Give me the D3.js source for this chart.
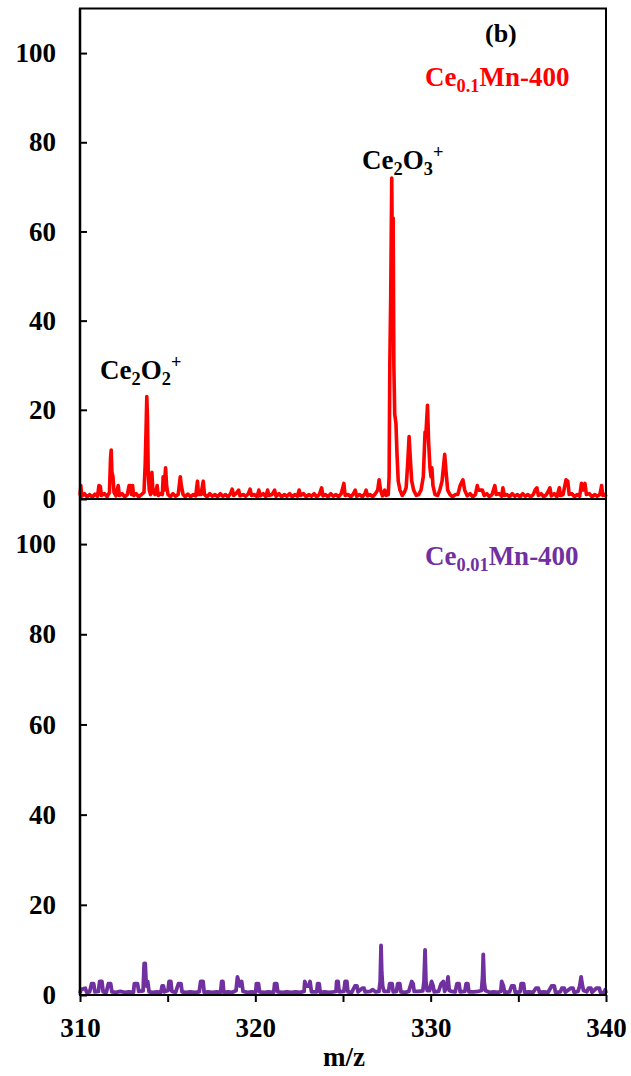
<!DOCTYPE html>
<html>
<head>
<meta charset="utf-8">
<script src="https://cdn.jsdelivr.net/npm/d3@7/dist/d3.min.js"></script>
<style>
  html, body { margin: 0; padding: 0; background: #fff; }
  svg text { font-family: "Liberation Serif", "Times New Roman", serif; font-weight: bold; }
</style>
</head>
<body>
<svg id="chart" width="631" height="1076"></svg>
<script>
// ---------- DATA ----------
const xTickValues = [310, 315, 320, 325, 330, 335, 340];
const xTickLabels = ["310", "", "320", "", "330", "", "340"];
const yTickValues = [0, 20, 40, 60, 80, 100];

// Ce0.1Mn-400 spectrum (m/z, intensity)
const seriesCe01 = [
[310.00,0.8],[310.05,3],[310.10,0.6],[310.25,1.2],[310.40,0.5],[310.55,1],[310.70,0.4],[310.85,1.1],[311.00,0.6],[311.08,3],[311.16,2.8],[311.22,0.8],[311.40,1.2],[311.55,0.5],[311.68,1.5],[311.74,9],[311.78,11],[311.82,6],[311.88,5],[311.94,1.5],[312.05,0.7],[312.18,3],[312.25,0.8],[312.40,1.2],[312.55,0.5],[312.70,1],[312.80,3],[312.88,3],[312.94,1],[313.00,3],[313.06,0.8],[313.20,1.2],[313.35,0.5],[313.50,1],[313.65,1.5],[313.72,8],[313.77,16],[313.81,23],[313.85,18],[313.89,6],[313.95,2],[314.02,1],[314.10,6],[314.16,1.5],[314.28,1],[314.40,3],[314.46,0.8],[314.60,1.2],[314.70,1],[314.74,5],[314.80,2],[314.88,7],[314.94,3],[315.02,1],[315.15,0.5],[315.30,1.2],[315.45,0.6],[315.60,1],[315.66,3],[315.72,5],[315.78,3],[315.88,1],[316.00,0.5],[316.15,1.1],[316.30,0.5],[316.45,1],[316.60,0.7],[316.70,4],[316.76,1],[316.90,1],[317.03,4],[317.10,1],[317.25,0.5],[317.40,1.2],[317.55,0.6],[317.70,1],[317.85,0.5],[318.00,1.2],[318.15,0.6],[318.30,1],[318.45,0.5],[318.60,1.3],[318.68,2.2],[318.76,0.8],[318.90,1.2],[319.05,2],[319.12,0.7],[319.30,1],[319.45,0.6],[319.60,1.2],[319.70,2.2],[319.78,0.8],[319.95,1],[320.10,0.5],[320.20,2],[320.28,0.7],[320.45,1.2],[320.60,0.5],[320.70,2],[320.78,0.8],[320.95,1],[321.10,2],[321.18,0.6],[321.35,1.2],[321.50,0.5],[321.65,1],[321.80,0.6],[321.95,1.2],[322.10,0.5],[322.25,1],[322.40,0.6],[322.50,2],[322.58,0.8],[322.75,1.2],[322.90,0.5],[323.05,1],[323.20,0.6],[323.35,1.2],[323.50,0.5],[323.65,1],[323.78,2.5],[323.86,0.7],[324.00,1],[324.15,0.5],[324.30,1.2],[324.45,0.6],[324.60,1],[324.75,0.5],[324.90,1.2],[325.05,3.5],[325.12,0.8],[325.30,1],[325.45,0.5],[325.60,1.2],[325.70,2],[325.78,0.6],[325.95,1],[326.10,0.5],[326.25,1.2],[326.32,2],[326.40,0.7],[326.55,1],[326.70,0.5],[326.85,1.2],[326.98,2],[327.06,4.3],[327.14,2],[327.25,0.7],[327.38,2],[327.46,0.8],[327.58,1],[327.63,5],[327.67,30],[327.72,45],[327.78,72],[327.81,58],[327.86,63],[327.90,30],[327.95,19],[328.02,17],[328.08,10],[328.15,4],[328.25,2],[328.38,0.8],[328.50,1.5],[328.60,2.5],[328.69,8],[328.77,14],[328.84,9],[328.92,4],[329.03,2],[329.18,0.8],[329.32,1],[329.45,2],[329.58,5],[329.68,15],[329.72,14],[329.82,21],[329.88,13],[329.96,7],[330.02,5],[330.07,7],[330.13,3],[330.25,1],[330.40,0.8],[330.52,2],[330.65,4],[330.70,6],[330.80,10],[330.88,6],[330.97,2],[331.10,1],[331.25,0.5],[331.40,1],[331.55,1],[331.68,3],[331.84,4.3],[331.94,2],[332.08,0.7],[332.25,1.2],[332.40,0.5],[332.55,1],[332.66,3],[332.72,2],[332.80,2],[332.95,2],[333.05,0.8],[333.20,1.2],[333.35,0.5],[333.50,1],[333.66,3],[333.74,1],[333.90,1.2],[334.05,0.6],[334.12,2.5],[334.20,0.8],[334.35,1],[334.50,0.5],[334.65,1.2],[334.80,0.6],[334.95,1],[335.10,0.5],[335.25,1.2],[335.40,0.6],[335.55,1],[335.70,0.5],[335.85,1],[335.98,2.2],[336.06,2.5],[336.14,0.8],[336.30,1.2],[336.45,0.5],[336.60,1],[336.74,2],[336.80,2.5],[336.88,0.7],[337.05,1.2],[337.20,0.5],[337.34,2.5],[337.40,0.8],[337.55,1],[337.72,4.3],[337.82,4],[337.90,1],[338.05,1.2],[338.20,0.5],[338.35,1],[338.50,0.6],[338.60,3.5],[338.70,2],[338.80,3.5],[338.88,1],[339.05,1.2],[339.20,0.5],[339.35,1],[339.50,0.6],[339.65,1],[339.75,3],[339.82,0.8],[339.95,1],[340.00,0.5]
];

// Ce0.01Mn-400 spectrum (m/z, intensity)
const seriesCe001 = [
[310.00,0.4],[310.05,1.2],[310.20,1.4],[310.30,1.5],[310.38,0.6],[310.55,0.7],[310.66,2.5],[310.78,2.5],[310.85,0.7],[311.05,0.8],[311.12,3],[311.25,3],[311.32,0.7],[311.50,0.6],[311.62,2.5],[311.75,2.5],[311.82,0.7],[312.05,0.6],[312.30,0.8],[312.55,0.6],[312.80,0.7],[313.05,0.6],[313.10,2.5],[313.28,2.5],[313.35,0.8],[313.60,0.9],[313.66,7],[313.72,7],[313.78,2],[313.86,3],[313.94,0.7],[314.15,0.6],[314.40,0.7],[314.62,0.6],[314.68,2],[314.76,2],[314.82,0.7],[315.02,1],[315.08,3],[315.18,3],[315.24,0.8],[315.45,0.6],[315.62,2.5],[315.76,2.5],[315.82,0.7],[316.05,0.6],[316.30,0.7],[316.55,0.6],[316.80,0.7],[316.88,3],[317.02,3],[317.08,0.6],[317.30,0.7],[317.55,0.6],[317.80,0.7],[318.02,0.6],[318.08,3],[318.15,3],[318.20,0.6],[318.45,0.7],[318.70,0.6],[318.90,1],[318.98,4],[319.05,3],[319.12,2],[319.22,3],[319.30,0.8],[319.55,0.6],[319.80,0.7],[320.02,0.6],[320.06,2.5],[320.18,2.5],[320.24,0.7],[320.50,0.6],[320.75,0.7],[321.05,0.6],[321.10,2.5],[321.22,2.5],[321.28,0.7],[321.55,0.6],[321.80,0.7],[322.05,0.6],[322.30,0.7],[322.55,0.6],[322.78,0.8],[322.82,3],[322.90,2],[323.05,2],[323.12,3],[323.20,0.7],[323.50,0.7],[323.55,2.5],[323.64,2.5],[323.70,0.6],[323.95,0.7],[324.20,0.6],[324.45,0.7],[324.60,0.8],[324.64,3],[324.72,3],[324.78,0.7],[325.05,0.8],[325.12,3],[325.22,3],[325.28,0.7],[325.50,0.6],[325.68,2],[325.80,2],[325.86,0.7],[326.10,1.5],[326.20,1.5],[326.26,0.7],[326.55,0.8],[326.70,1.2],[326.85,0.7],[327.05,0.8],[327.12,3],[327.17,11],[327.21,5],[327.26,2],[327.34,0.8],[327.60,0.8],[327.66,2.5],[327.80,2.5],[327.86,0.7],[328.05,0.8],[328.12,2.5],[328.24,2.5],[328.30,0.7],[328.55,0.6],[328.75,0.8],[328.92,3],[329.00,2.5],[329.06,0.8],[329.30,0.8],[329.55,0.9],[329.62,3],[329.68,10],[329.73,3],[329.80,1],[329.94,1],[330.05,3],[330.14,2],[330.20,0.7],[330.45,0.8],[330.60,2.5],[330.72,3],[330.80,0.8],[330.92,2],[330.99,4],[331.06,1],[331.20,0.8],[331.40,0.7],[331.50,2.5],[331.62,2.5],[331.68,0.7],[331.95,0.8],[332.02,2.5],[332.12,2.5],[332.18,0.7],[332.45,0.7],[332.70,0.8],[332.90,1],[332.96,4],[333.00,9],[333.05,3],[333.12,1],[333.35,0.6],[333.60,0.7],[333.85,0.6],[334.00,0.8],[334.05,3],[334.15,2],[334.22,0.6],[334.50,0.7],[334.62,2],[334.76,2],[334.82,0.6],[335.10,0.7],[335.16,2.5],[335.30,2.5],[335.36,0.6],[335.60,0.7],[335.85,0.6],[336.00,1.5],[336.14,1.5],[336.20,0.6],[336.45,0.7],[336.70,0.6],[336.90,2],[337.05,2],[337.12,0.6],[337.40,0.7],[337.48,1.5],[337.62,1.5],[337.68,0.6],[337.98,1.5],[338.12,1.5],[338.18,0.6],[338.40,0.8],[338.50,2],[338.58,4],[338.66,2],[338.72,1],[338.90,0.7],[339.00,1.5],[339.14,1.5],[339.20,0.6],[339.45,1.5],[339.62,1.5],[339.68,0.6],[339.90,0.5],[339.96,1.2],[340.00,0.4]
];

// ---------- LAYOUT ----------
const svg = d3.select("#chart");
const X0 = 80, X1 = 606;
const x = d3.scaleLinear().domain([310, 340]).range([X0, X1]);
const yTop = d3.scaleLinear().domain([0, 110]).range([499, 8.5]);
const yBot = d3.scaleLinear().domain([0, 110]).range([995, 499]);

const FONT = 27;
const SERIF = '"Liberation Serif", "Times New Roman", Times, serif';

function panel(yScale, data, color, width) {
  const line = d3.line().x(d => x(d[0])).y(d => yScale(d[1]));
  svg.append("path")
    .datum(data)
    .attr("d", line)
    .attr("fill", "none")
    .attr("stroke", color)
    .attr("stroke-width", width)
    .attr("stroke-linejoin", "round");

  // frame
  svg.append("rect")
    .attr("x", X0).attr("y", yScale.range()[1])
    .attr("width", X1 - X0).attr("height", yScale.range()[0] - yScale.range()[1])
    .attr("fill", "none").attr("stroke", "#000").attr("stroke-width", 2);

  const ay = svg.append("g")
    .attr("transform", `translate(${X0},0)`)
    .call(d3.axisLeft(yScale).tickValues(yTickValues).tickSizeInner(-7).tickSizeOuter(0).tickPadding(24));
  ay.select(".domain").remove();
  ay.selectAll(".tick line").attr("stroke", "#000").attr("stroke-width", 2);
  ay.selectAll("text").attr("font-size", FONT).attr("fill", "#000")
    .attr("font-family", SERIF).attr("font-weight", "bold");
}

panel(yTop, seriesCe01, "#ff0000", 3.6);
panel(yBot, seriesCe001, "#7030a0", 3.8);

// left axis line (thicker)
svg.append("line").attr("x1", X0).attr("x2", X0).attr("y1", 8.5).attr("y2", 995)
  .attr("stroke", "#000").attr("stroke-width", 2.5);

// bottom axis
const ax = svg.append("g")
  .attr("transform", "translate(0,995)")
  .call(d3.axisBottom(x).tickValues(xTickValues).tickSizeInner(7).tickSizeOuter(0).tickPadding(16)
    .tickFormat((d, i) => xTickLabels[i]));
ax.select(".domain").remove();
ax.selectAll(".tick line").attr("stroke", "#000").attr("stroke-width", 2);
ax.selectAll("text").attr("font-size", FONT).attr("fill", "#000")
  .attr("font-family", SERIF).attr("font-weight", "bold");

// axis title
svg.append("text").attr("x", (X0 + X1) / 2 + 1).attr("y", 1066)
  .attr("text-anchor", "middle").attr("font-size", FONT).attr("font-family", SERIF).text("m/z");

// panel label
svg.append("text").attr("x", 485).attr("y", 42).attr("font-size", 26).attr("font-family", SERIF)
  .attr("fill", "#000").text("(b)");

// sample labels with subscripts
function label(xp, yp, parts, color, size) {
  const t = svg.append("text").attr("x", xp).attr("y", yp).attr("font-size", size)
    .attr("font-family", SERIF).attr("fill", color);
  parts.forEach(p => {
    const s = t.append("tspan").text(p.t);
    if (p.sub) s.attr("font-size", size * 0.68).attr("dy", size * 0.22);
    else if (p.sup) s.attr("font-size", size * 0.68).attr("dy", -size * 0.42);
    if (p.back) s.attr("dy", p.back * size);
  });
  return t;
}

label(425, 86, [{t: "Ce"}, {t: "0.1", sub: true}, {t: "Mn-400", back: -0.22}], "#ff0000", FONT);
label(425, 565, [{t: "Ce"}, {t: "0.01", sub: true}, {t: "Mn-400", back: -0.22}], "#7030a0", FONT);
label(362, 169, [{t: "Ce"}, {t: "2", sub: true}, {t: "O", back: -0.22}, {t: "3", sub: true}, {t: "+", sup: true, back: -0.42 - 0.22}], "#000", FONT);
label(100, 379, [{t: "Ce"}, {t: "2", sub: true}, {t: "O", back: -0.22}, {t: "2", sub: true}, {t: "+", sup: true, back: -0.42 - 0.22}], "#000", FONT);
</script>
</body>
</html>
